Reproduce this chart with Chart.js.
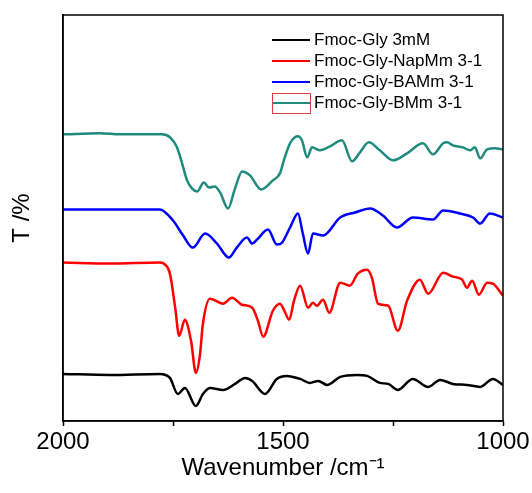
<!DOCTYPE html>
<html>
<head>
<meta charset="utf-8">
<script src="https://cdn.jsdelivr.net/npm/chart.js@4/dist/chart.umd.min.js"></script>
<style>
  html, body { margin: 0; padding: 0; background: #fff; }
</style>
</head>
<body>
<canvas id="myChart" width="532" height="493"></canvas>
<script>
// nombres de las series (leyenda)
const seriesNames = ['Fmoc-Gly 3mM', 'Fmoc-Gly-NapMm 3-1', 'Fmoc-Gly-BAMm 3-1', 'Fmoc-Gly-BMm 3-1'];
const seriesColors = ['#000000', '#ff0000', '#0000ff', '#1f8a7e'];

// eje x
const xTicks = [2000, 1750, 1500, 1250, 1000];

// Fmoc-Gly 3mM
const wnBlack = [2000, 1893, 1780, 1757, 1739, 1723, 1698, 1682, 1666, 1636, 1609, 1586, 1570, 1541, 1514, 1491, 1461, 1439, 1420, 1400, 1370, 1332, 1309, 1280, 1261, 1239, 1205, 1170, 1143, 1114, 1082, 1052, 1023, 1000];
const tBlack = [11.75, 11.5, 11.75, 10.75, 6.75, 8.25, 3.75, 6.75, 8.25, 7.75, 9.25, 10.75, 10, 6.75, 10.5, 11.25, 10.5, 9.5, 10, 9, 11, 11.5, 11.25, 9.5, 9.25, 7.75, 10.5, 8.5, 10.25, 9.25, 9, 8.5, 10.5, 9];

// Fmoc-Gly-NapMm 3-1
const wnRed = [2000, 1893, 1780, 1768, 1757, 1745, 1736, 1723, 1709, 1698, 1689, 1682, 1666, 1636, 1616, 1593, 1570, 1557, 1545, 1523, 1507, 1495, 1486, 1475, 1461, 1443, 1432, 1423, 1409, 1395, 1370, 1348, 1330, 1309, 1298, 1284, 1261, 1239, 1218, 1189, 1170, 1136, 1114, 1093, 1082, 1070, 1055, 1036, 1023, 1000];
const tRed = [39.5, 39.25, 39.5, 39, 36.75, 28.25, 21.25, 25.25, 20, 12, 16.25, 24.25, 30.5, 29.25, 30.75, 29, 28.25, 25, 21, 27.5, 29.25, 27, 25.25, 30, 33.75, 28.25, 29.5, 28.75, 30.25, 27, 34.5, 33.75, 36.75, 37.75, 35.75, 29.25, 28.75, 22.5, 30, 35.25, 31.75, 37, 36, 35.25, 33.25, 35, 31.5, 34.5, 34.25, 31.25];

// Fmoc-Gly-BAMm 3-1
const wnBlue = [2000, 1893, 1780, 1750, 1727, 1705, 1677, 1650, 1623, 1605, 1582, 1570, 1559, 1534, 1514, 1502, 1484, 1466, 1455, 1443, 1432, 1409, 1370, 1336, 1302, 1273, 1241, 1205, 1159, 1136, 1098, 1068, 1052, 1030, 1000];
const tBlue = [52.75, 52.75, 52.75, 50, 46.25, 43.25, 46.75, 44.25, 40.75, 43.25, 45.75, 44.25, 45.25, 47.75, 44, 44.5, 48.25, 51.75, 46.75, 41.75, 46.75, 46.25, 50.75, 52, 53, 51.25, 48.25, 50.75, 50.25, 52.5, 51.75, 50.75, 49.25, 51.75, 50.75];

// Fmoc-Gly-BMm 3-1
const wnTeal = [2000, 1916, 1870, 1775, 1757, 1741, 1730, 1718, 1707, 1695, 1680, 1668, 1655, 1643, 1625, 1609, 1593, 1575, 1550, 1523, 1507, 1498, 1484, 1473, 1466, 1457, 1445, 1434, 1416, 1393, 1366, 1343, 1325, 1305, 1280, 1250, 1218, 1182, 1159, 1136, 1127, 1114, 1091, 1075, 1064, 1052, 1036, 1018, 1000];
const tTeal = [71.5, 71.75, 71.5, 71.5, 70.75, 68.25, 64.5, 60, 58, 57.25, 59.5, 58.25, 58.5, 57, 53, 58, 62.25, 61.25, 57.75, 60, 61.75, 65, 69.25, 70.75, 71, 70, 65.75, 68.25, 67.5, 68.5, 70, 64.75, 67, 69.5, 67.5, 65, 66.75, 69.25, 66.5, 69.25, 69.5, 68.75, 68.25, 67.5, 68.25, 65.5, 67.75, 68, 67.75];

const toPoints = (xs, ys) => xs.map((x, i) => ({ x: x, y: ys[i] }));
const seriesData = [toPoints(wnBlack, tBlack), toPoints(wnRed, tRed), toPoints(wnBlue, tBlue), toPoints(wnTeal, tTeal)];

const FONT = "'Liberation Sans', Arial, sans-serif";

// marco del grafico + leyenda dentro del area
const framePlugin = {
    id: 'frame',
    afterDraw(chart) {
        const c = chart.ctx;
        const a = chart.chartArea;
        c.save();
        c.strokeStyle = '#000';
        c.lineWidth = 1.5;
        c.strokeRect(a.left, a.top, a.right - a.left, a.bottom - a.top);

        // leyenda
        c.font = '17px ' + FONT;
        c.textBaseline = 'middle';
        c.textAlign = 'left';
        chart.data.datasets.forEach((ds, i) => {
            const y = 40 + i * 21;
            c.strokeStyle = ds.borderColor;
            c.lineWidth = 2;
            c.beginPath();
            c.moveTo(272, y);
            c.lineTo(310, y);
            c.stroke();
            c.fillStyle = '#000';
            c.fillText(ds.label, 314, y);
        });
        // recuadro rojo del ultimo simbolo
        c.strokeStyle = '#e04040';
        c.lineWidth = 1;
        c.strokeRect(272.5, 93.5, 38, 20);
        c.restore();
    }
};

const ctx = document.getElementById('myChart').getContext('2d');
const myChart = new Chart(ctx, {
    type: 'line',
    data: {
        datasets: seriesData.map((d, i) => ({
            label: seriesNames[i],
            data: d,
            borderColor: seriesColors[i],
            backgroundColor: seriesColors[i],
            borderWidth: 2.5,
            pointRadius: 0,
            cubicInterpolationMode: 'monotone',
            fill: false
        }))
    },
    options: {
        responsive: false,
        animation: false,
        layout: { padding: { top: 15, right: 29, left: 0, bottom: 0 } },
        plugins: {
            legend: { display: false },
            tooltip: { enabled: false }
        },
        scales: {
            x: {
                type: 'linear',
                reverse: true,
                min: 1000,
                max: 2000,
                afterBuildTicks: (scale) => { scale.ticks = xTicks.map(v => ({ value: v })); },
                afterFit: (scale) => { scale.height = 72; },
                ticks: {
                    color: '#000',
                    font: { family: FONT, size: 24 },
                    padding: 2,
                    maxRotation: 0,
                    callback: (v) => (v % 500 === 0 ? String(v) : '')
                },
                grid: {
                    drawOnChartArea: false,
                    tickLength: 5,
                    tickColor: '#000',
                    tickWidth: 1.5
                },
                border: { color: '#000', width: 1.5 },
                title: {
                    display: true,
                    text: 'Wavenumber /cm\u207B\u00B9',
                    color: '#000',
                    font: { family: FONT, size: 24 },
                    padding: { top: 0, bottom: 10 }
                }
            },
            y: {
                min: 0,
                max: 101.25,
                afterFit: (scale) => { scale.width = 63; },
                ticks: { display: false },
                grid: { display: false },
                border: { color: '#000', width: 1.5 },
                title: {
                    display: true,
                    text: 'T /%',
                    color: '#000',
                    font: { family: FONT, size: 24 },
                    padding: { top: 8, bottom: 8 }
                }
            }
        }
    },
    plugins: [framePlugin]
});
</script>
</body>
</html>
